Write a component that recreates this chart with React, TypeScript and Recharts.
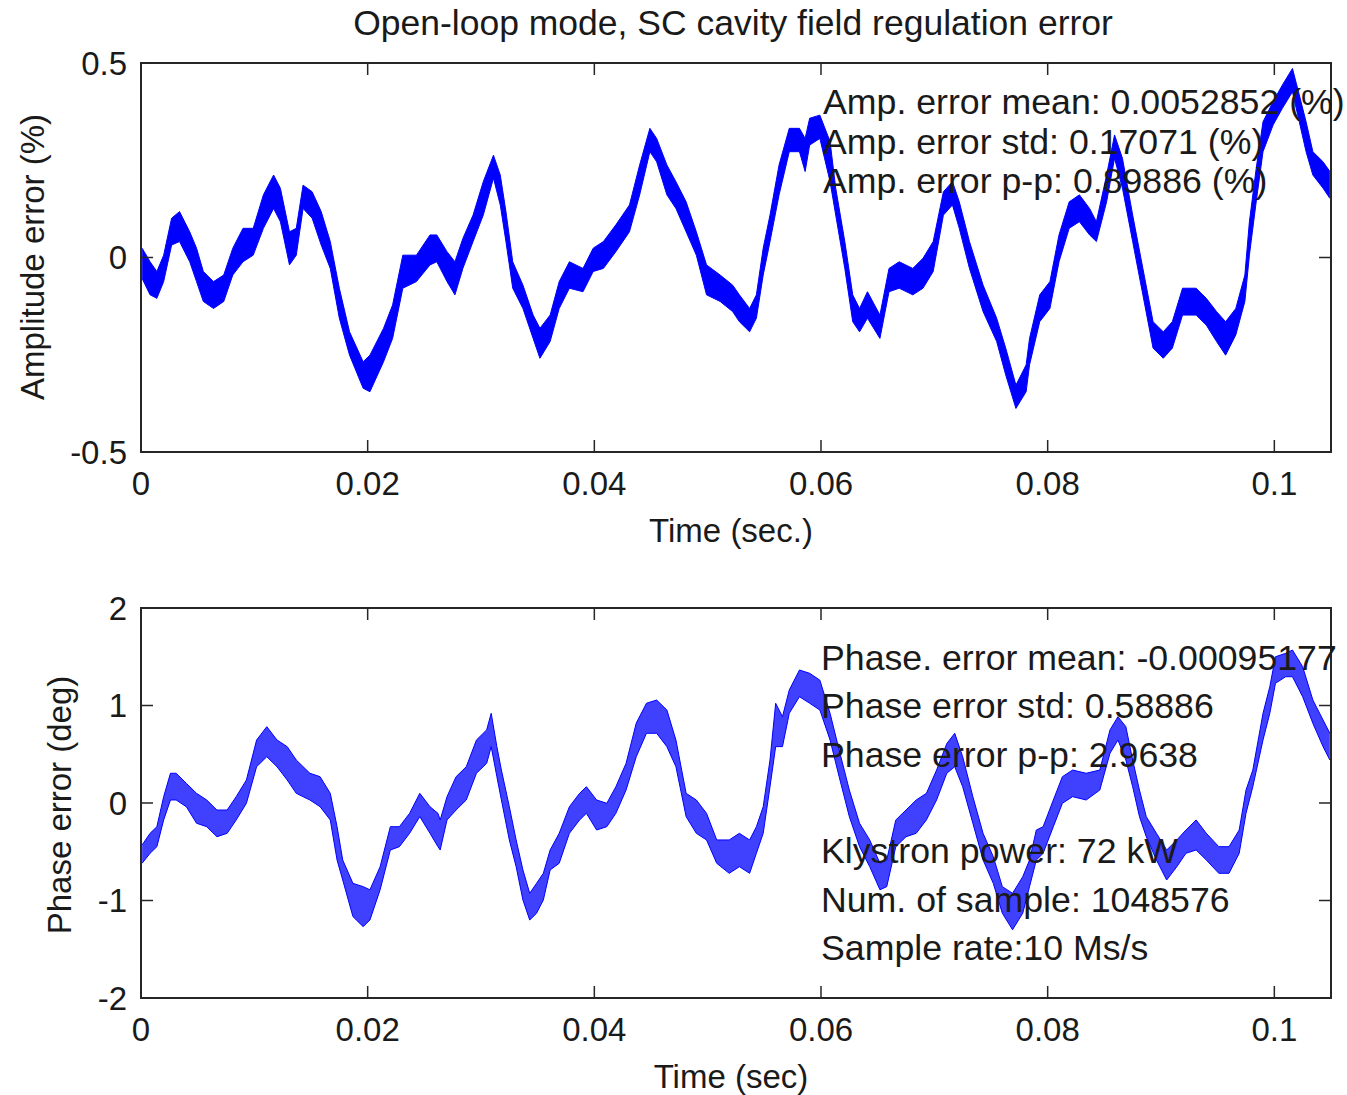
import React from 'react';
import { ComposedChart, Area, XAxis, YAxis, ReferenceArea } from 'recharts';

// ── Data (upper / lower edge of the noise band) ────

const X_TICKS = [0, 0.02, 0.04, 0.06, 0.08, 0.1];
const AMP_TICKS = [-0.5, 0, 0.5];
const PH_TICKS = [-2, -1, 0, 1, 2];

const AMP_T = [
  0.0001, 0.0008, 0.0014, 0.0020, 0.0027, 0.0034, 0.0043, 0.0049, 0.0055, 0.0064,
  0.0073, 0.0081, 0.0090, 0.0099, 0.0108, 0.0117, 0.0123, 0.0131, 0.0137, 0.0143,
  0.0151, 0.0159, 0.0167, 0.0175, 0.0184, 0.0196, 0.0202, 0.0214, 0.0222, 0.0231,
  0.0243, 0.0255, 0.0261, 0.0270, 0.0277, 0.0284, 0.0293, 0.0302, 0.0311, 0.0317,
  0.0322, 0.0328, 0.0337, 0.0346, 0.0352, 0.0361, 0.0369, 0.0378, 0.0390, 0.0399,
  0.0408, 0.0419, 0.0431, 0.0440, 0.0449, 0.0455, 0.0464, 0.0472, 0.0481, 0.0490,
  0.0499, 0.0511, 0.0522, 0.0528, 0.0537, 0.0543, 0.0549, 0.0555, 0.0563, 0.0572,
  0.0581, 0.0586, 0.0590, 0.0599, 0.0608, 0.0613, 0.0621, 0.0628, 0.0634, 0.0641,
  0.0652, 0.0660, 0.0669, 0.0681, 0.0690, 0.0699, 0.0708, 0.0716, 0.0722, 0.0731,
  0.0743, 0.0755, 0.0763, 0.0772, 0.0781, 0.0784, 0.0793, 0.0802, 0.0810, 0.0819,
  0.0828, 0.0837, 0.0843, 0.0852, 0.0859, 0.0866, 0.0875, 0.0884, 0.0893, 0.0902,
  0.0910, 0.0919, 0.0931, 0.0940, 0.0949, 0.0957, 0.0966, 0.0974, 0.0978, 0.0984,
  0.0990, 0.0999, 0.1007, 0.1016, 0.1022, 0.1028, 0.1034, 0.1043, 0.1049,
];
const AMP_HI = [
  0.024, -0.011, -0.036, 0.006, 0.101, 0.118, 0.066, 0.024, -0.036, -0.062,
  -0.045, 0.024, 0.075, 0.075, 0.161, 0.212, 0.178, 0.066, 0.075, 0.186,
  0.169, 0.118, 0.041, -0.079, -0.191, -0.268, -0.251, -0.182, -0.122, 0.006,
  0.006, 0.058, 0.058, 0.015, -0.011, 0.049, 0.109, 0.195, 0.263, 0.212,
  0.118, -0.011, -0.071, -0.148, -0.182, -0.148, -0.062, -0.011, -0.028, 0.024,
  0.041, 0.084, 0.135, 0.238, 0.332, 0.306, 0.238, 0.195, 0.143, 0.066,
  -0.019, -0.045, -0.071, -0.096, -0.131, -0.096, 0.024, 0.109, 0.238, 0.332,
  0.332, 0.306, 0.358, 0.366, 0.298, 0.178, 0.041, -0.096, -0.131, -0.088,
  -0.148, -0.028, -0.011, -0.028, -0.002, 0.041, 0.169, 0.195, 0.143, 0.041,
  -0.071, -0.156, -0.233, -0.328, -0.276, -0.208, -0.096, -0.062, 0.058, 0.143,
  0.161, 0.126, 0.092, 0.212, 0.315, 0.255, 0.109, -0.028, -0.165, -0.191,
  -0.165, -0.079, -0.079, -0.105, -0.139, -0.165, -0.131, -0.045, 0.092, 0.229,
  0.349, 0.401, 0.443, 0.486, 0.418, 0.349, 0.272, 0.246, 0.221,
];
const AMP_LO = [
  -0.054, -0.096, -0.105, -0.062, 0.032, 0.041, -0.011, -0.062, -0.113, -0.131,
  -0.113, -0.045, -0.011, 0.006, 0.075, 0.126, 0.092, -0.019, 0.006, 0.126,
  0.101, 0.032, -0.028, -0.156, -0.251, -0.336, -0.345, -0.268, -0.208, -0.079,
  -0.062, -0.019, -0.011, -0.062, -0.096, -0.028, 0.041, 0.109, 0.204, 0.135,
  0.041, -0.079, -0.131, -0.208, -0.259, -0.216, -0.131, -0.079, -0.088, -0.036,
  -0.028, 0.015, 0.066, 0.161, 0.272, 0.246, 0.161, 0.126, 0.066, 0.006,
  -0.096, -0.113, -0.139, -0.165, -0.191, -0.156, -0.045, 0.041, 0.161, 0.272,
  0.272, 0.221, 0.289, 0.306, 0.195, 0.109, -0.028, -0.165, -0.191, -0.156,
  -0.208, -0.088, -0.079, -0.096, -0.079, -0.036, 0.109, 0.135, 0.075, -0.028,
  -0.139, -0.216, -0.302, -0.388, -0.345, -0.276, -0.165, -0.131, -0.011, 0.075,
  0.092, 0.058, 0.041, 0.143, 0.255, 0.178, 0.041, -0.096, -0.233, -0.259,
  -0.233, -0.148, -0.148, -0.174, -0.216, -0.251, -0.199, -0.113, 0.006, 0.143,
  0.272, 0.341, 0.383, 0.426, 0.349, 0.272, 0.212, 0.178, 0.152,
];

const PH_T = [
  0.0001, 0.0008, 0.0014, 0.0020, 0.0026, 0.0031, 0.0040, 0.0049, 0.0058, 0.0067,
  0.0076, 0.0084, 0.0093, 0.0102, 0.0111, 0.0120, 0.0129, 0.0137, 0.0149, 0.0158,
  0.0167, 0.0173, 0.0178, 0.0187, 0.0196, 0.0202, 0.0211, 0.0220, 0.0228, 0.0237,
  0.0246, 0.0255, 0.0262, 0.0264, 0.0270, 0.0278, 0.0287, 0.0296, 0.0305, 0.0309,
  0.0314, 0.0318, 0.0325, 0.0331, 0.0337, 0.0343, 0.0349, 0.0355, 0.0361, 0.0369,
  0.0378, 0.0387, 0.0393, 0.0402, 0.0411, 0.0419, 0.0428, 0.0437, 0.0446, 0.0455,
  0.0464, 0.0472, 0.0481, 0.0490, 0.0499, 0.0508, 0.0519, 0.0528, 0.0537, 0.0543,
  0.0549, 0.0555, 0.0560, 0.0566, 0.0572, 0.0581, 0.0590, 0.0599, 0.0608, 0.0616,
  0.0625, 0.0634, 0.0643, 0.0652, 0.0658, 0.0666, 0.0675, 0.0684, 0.0693, 0.0702,
  0.0711, 0.0718, 0.0725, 0.0734, 0.0743, 0.0752, 0.0760, 0.0769, 0.0778, 0.0784,
  0.0790, 0.0796, 0.0805, 0.0813, 0.0822, 0.0834, 0.0846, 0.0855, 0.0862, 0.0869,
  0.0875, 0.0881, 0.0887, 0.0896, 0.0905, 0.0914, 0.0922, 0.0931, 0.0940, 0.0951,
  0.0960, 0.0969, 0.0975, 0.0981, 0.0990, 0.0996, 0.1001, 0.1010, 0.1016, 0.1025,
  0.1034, 0.1043, 0.1049,
];
const PH_HI = [
  -0.43, -0.311, -0.243, 0.065, 0.305, 0.305, 0.202, 0.099, 0.031, -0.072,
  -0.072, 0.065, 0.236, 0.646, 0.783, 0.646, 0.578, 0.441, 0.305, 0.270,
  0.099, -0.243, -0.585, -0.824, -0.858, -0.89, -0.653, -0.243, -0.243, -0.106,
  0.099, -0.038, -0.106, -0.174, 0.065, 0.270, 0.372, 0.646, 0.75, 0.920,
  0.578, 0.338, -0.038, -0.379, -0.687, -0.926, -0.824, -0.721, -0.482, -0.311,
  -0.038, 0.099, 0.167, 0.031, -0.003, 0.167, 0.407, 0.82, 1.023, 1.056,
  0.954, 0.646, 0.099, 0.031, -0.106, -0.379, -0.379, -0.311, -0.379, -0.243,
  -0.038, 0.441, 1.023, 0.885, 1.159, 1.364, 1.33, 1.26, 0.920, 0.544,
  0.133, -0.208, -0.379, -0.618, -0.585, -0.174, -0.072, 0.031, 0.099, 0.338,
  0.61, 0.715, 0.475, 0.065, -0.311, -0.55, -0.858, -0.926, -0.756, -0.585,
  -0.277, -0.243, 0.031, 0.270, 0.338, 0.305, 0.338, 0.75, 0.885, 0.783,
  0.441, 0.133, -0.140, -0.311, -0.482, -0.379, -0.277, -0.174, -0.311, -0.448,
  -0.448, -0.277, 0.133, 0.338, 0.920, 1.193, 1.50, 1.535, 1.569, 1.398,
  1.056, 0.851, 0.715,
];
const PH_LO = [
  -0.618, -0.516, -0.448, -0.174, 0.031, 0.031, -0.038, -0.208, -0.243, -0.346,
  -0.311, -0.174, -0.003, 0.372, 0.475, 0.372, 0.236, 0.099, 0.031, -0.038,
  -0.174, -0.585, -0.790, -1.165, -1.268, -1.200, -0.89, -0.482, -0.448, -0.311,
  -0.140, -0.311, -0.448, -0.482, -0.174, -0.072, 0.031, 0.305, 0.407, 0.578,
  0.270, 0.031, -0.379, -0.653, -0.995, -1.200, -1.131, -0.995, -0.687, -0.618,
  -0.311, -0.174, -0.106, -0.277, -0.243, -0.106, 0.133, 0.475, 0.715, 0.715,
  0.578, 0.372, -0.140, -0.311, -0.379, -0.618, -0.721, -0.653, -0.721, -0.516,
  -0.311, 0.167, 0.578, 0.578, 0.920, 1.090, 1.023, 0.954, 0.646, 0.270,
  -0.140, -0.448, -0.653, -0.89, -0.858, -0.448, -0.346, -0.311, -0.174, 0.031,
  0.305, 0.372, 0.167, -0.208, -0.585, -0.824, -1.131, -1.30, -1.131, -0.858,
  -0.585, -0.516, -0.243, -0.003, 0.065, 0.031, 0.133, 0.510, 0.646, 0.441,
  0.167, -0.140, -0.346, -0.585, -0.790, -0.653, -0.516, -0.482, -0.585, -0.721,
  -0.721, -0.516, -0.106, 0.167, 0.646, 0.920, 1.228, 1.295, 1.295, 1.090,
  0.817, 0.578, 0.441,
];

const AMP_NOTES = [
  'Amp. error mean: 0.0052852 (%)',
  'Amp. error std: 0.17071 (%)',
  'Amp. error p-p: 0.89886 (%)',
];
const PH_NOTES = [
  'Phase. error mean: -0.00095177',
  'Phase error std: 0.58886',
  'Phase error p-p: 2.9638',
  '',
  'Klystron power: 72 kW',
  'Num. of sample: 1048576',
  'Sample rate:10 Ms/s',
];

// ── Style ─────────────────────────────────────────────────────────────────────

const FONT = '"Liberation Sans", Arial, sans-serif';
const INK = '#1a1a1a';
const FRAME = '#262626';
const BLUE = '#0000ff';
const W = 1347;
const PLOT_W = 1190;
const TICK_LEN = 12;

// ── Inward MATLAB-style ticks ─────────────────────────────────────────────────

function XTick({ x, y, payload, plotH }: any) {
  return (
    <g>
      <line x1={x} x2={x} y1={y} y2={y - TICK_LEN} stroke={FRAME} strokeWidth={1.5} />
      <line x1={x} x2={x} y1={y - plotH} y2={y - plotH + TICK_LEN} stroke={FRAME} strokeWidth={1.5} />
      <text x={x} y={y + 43} textAnchor="middle" fontSize={33} fill={INK} fontFamily={FONT}>
        {String(payload.value)}
      </text>
    </g>
  );
}

function YTick({ x, y, payload }: any) {
  return (
    <g>
      <line x1={x} x2={x + TICK_LEN} y1={y} y2={y} stroke={FRAME} strokeWidth={1.5} />
      <line x1={x + PLOT_W} x2={x + PLOT_W - TICK_LEN} y1={y} y2={y} stroke={FRAME} strokeWidth={1.5} />
      <text x={x - 14} y={y} dy="0.36em" textAnchor="end" fontSize={33} fill={INK} fontFamily={FONT}>
        {String(payload.value)}
      </text>
    </g>
  );
}

// ── One subplot ───────────────────────────────────────────────────────────────

function Panel({ time, hi, lo, yDomain, yTicks, height, bottom, fillOpacity }: {
  time: number[]; hi: number[]; lo: number[]; yDomain: [number, number]; yTicks: number[];
  height: number; bottom: number; fillOpacity: number;
}) {
  const data = time.map((t, i) => ({ t, band: [lo[i], hi[i]] }));
  const plotH = height - 63 - bottom - 30;
  return (
    <ComposedChart width={W} height={height} data={data}
      margin={{ top: 63, right: 16, left: 81, bottom }}>
      <XAxis dataKey="t" type="number" domain={[0, 0.105]} ticks={X_TICKS} interval={0}
        allowDataOverflow axisLine={false} tickLine={false} tickSize={0} tickMargin={0} height={30}
        tick={(p: any) => <XTick {...p} plotH={plotH} />} />
      <YAxis type="number" domain={yDomain} ticks={yTicks} interval={0} allowDataOverflow
        axisLine={false} tickLine={false} tickSize={0} tickMargin={0} width={60}
        tick={(p: any) => <YTick {...p} />} />
      <Area type="linear" dataKey="band" stroke={BLUE} strokeWidth={1} fill={BLUE}
        fillOpacity={fillOpacity} dot={false} activeDot={false} isAnimationActive={false} />
      <ReferenceArea x1={0} x2={0.105} y1={yDomain[0]} y2={yDomain[1]}
        fill="none" fillOpacity={0} stroke={FRAME} strokeWidth={2} />
    </ComposedChart>
  );
}

export default function App() {
  return (
    <div style={{ position: 'absolute', left: 0, top: 0, width: W, height: 1095, background: '#fff' }}>
      <div style={{ position: 'absolute', left: 0, top: 0 }}>
        <Panel time={AMP_T} hi={AMP_HI} lo={AMP_LO} yDomain={[-0.5, 0.5]} yTicks={AMP_TICKS}
          height={560} bottom={78} fillOpacity={1} />
      </div>
      <div style={{ position: 'absolute', left: 0, top: 545 }}>
        <Panel time={PH_T} hi={PH_HI} lo={PH_LO} yDomain={[-2, 2]} yTicks={PH_TICKS}
          height={550} bottom={67} fillOpacity={0.75} />
      </div>

      {/* Titles, axis labels and statistics text */}
      <svg width={W} height={1095} style={{ position: 'absolute', left: 0, top: 0, pointerEvents: 'none' }}
        fontFamily={FONT} fill={INK}>
        <text x={733} y={35} textAnchor="middle" fontSize={35.5}>Open-loop mode, SC cavity field regulation error</text>
        <text x={731} y={542} textAnchor="middle" fontSize={33}>Time (sec.)</text>
        <text x={731} y={1088} textAnchor="middle" fontSize={33}>Time (sec)</text>
        <text transform="translate(44 257) rotate(-90)" textAnchor="middle" fontSize={33}>Amplitude error (%)</text>
        <text transform="translate(71 805) rotate(-90)" textAnchor="middle" fontSize={33}>Phase error (deg)</text>
        {AMP_NOTES.map((s, i) => (
          <text key={s} x={823} y={114 + i * 39.5} fontSize={35.7}>{s}</text>
        ))}
        {PH_NOTES.map((s, i) => (
          <text key={i} x={821} y={670 + i * 48.3} fontSize={35.7}>{s}</text>
        ))}
      </svg>
    </div>
  );
}
